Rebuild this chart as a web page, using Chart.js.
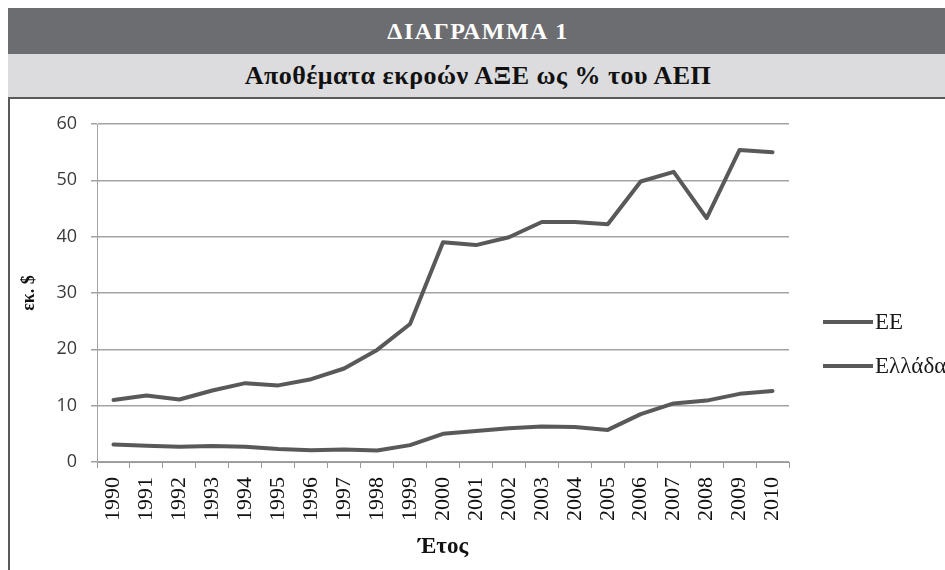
<!DOCTYPE html>
<html>
<head>
<meta charset="utf-8">
<script src="https://cdn.jsdelivr.net/npm/chart.js@4"></script>
<style>
  html, body { margin: 0; padding: 0; background: #fff; }
  body { width: 945px; height: 570px; position: relative; overflow: hidden; }
  .bar1 { position: absolute; left: 8px; top: 8px; width: 960px; height: 46px; background: #6c6d71;
          color: #fff; font: bold 24px "Liberation Serif", serif; letter-spacing: 1.5px; line-height: 46px; }
  .bar2 { position: absolute; left: 8px; top: 54px; width: 960px; height: 43px; background: #dcdcde;
          color: #111; font: bold 26px "Liberation Serif", serif; letter-spacing: 0.5px; line-height: 43px; }
  .bar1 span, .bar2 span { position: absolute; left: 0; width: 940px; text-align: center; }
  .topline { position: absolute; left: 8px; top: 97px; width: 960px; height: 2px; background: #58595b; }
  .leftline { position: absolute; left: 8px; top: 97px; width: 2px; height: 480px; background: #58595b; }
  canvas { position: absolute; left: 0; top: 99px; }
</style>
</head>
<body>
<div class="bar1"><span>ΔΙΑΓΡΑΜΜΑ 1</span></div>
<div class="bar2"><span>Αποθέματα εκροών ΑΞΕ ως % του ΑΕΠ</span></div>
<canvas id="stockChart" width="945" height="471"></canvas>
<div class="topline"></div>
<div class="leftline"></div>
<script>
const years = ['1990', '1991', '1992', '1993', '1994', '1995', '1996', '1997', '1998', '1999', '2000',
               '2001', '2002', '2003', '2004', '2005', '2006', '2007', '2008', '2009', '2010'];
const euValues = [11.0, 11.8, 11.1, 12.7, 14.0, 13.6, 14.7, 16.6, 19.9, 24.5, 39.0,
                  38.5, 39.9, 42.6, 42.6, 42.2, 49.8, 51.5, 43.3, 55.4, 55.0];
const greeceValues = [3.1, 2.9, 2.7, 2.85, 2.7, 2.3, 2.1, 2.2, 2.05, 3.0, 5.0,
                      5.5, 6.0, 6.3, 6.2, 5.7, 8.5, 10.4, 10.9, 12.1, 12.6];
const seriesNames = ['ΕΕ', 'Ελλάδα'];
const yTicks = [0, 10, 20, 30, 40, 50, 60];

// legend drawn by hand so it can run off the right edge like the original
const sideLegend = {
    id: 'sideLegend',
    afterDraw(chart) {
        const ctx = chart.ctx;
        const rows = [223, 267];
        ctx.save();
        chart.data.datasets.forEach((ds, i) => {
            ctx.strokeStyle = ds.borderColor;
            ctx.lineWidth = 4;
            ctx.beginPath();
            ctx.moveTo(823, rows[i]);
            ctx.lineTo(873, rows[i]);
            ctx.stroke();
            ctx.fillStyle = '#1a1a1a';
            ctx.font = '23px "Liberation Serif", serif';
            ctx.textBaseline = 'middle';
            ctx.textAlign = 'left';
            ctx.fillText(ds.label, 875, rows[i] + 1);
        });
        ctx.restore();
    }
};

function drawChart() {
    const ctx = document.getElementById('stockChart').getContext('2d');
    return new Chart(ctx, {
        type: 'line',
        data: {
            labels: years,
            datasets: [
                {
                    label: seriesNames[0],
                    data: euValues,
                    borderColor: '#595959',
                    borderWidth: 4,
                    pointRadius: 0,
                    tension: 0,
                    borderJoinStyle: 'round',
                    borderCapStyle: 'round'
                },
                {
                    label: seriesNames[1],
                    data: greeceValues,
                    borderColor: '#595959',
                    borderWidth: 4,
                    pointRadius: 0,
                    tension: 0,
                    borderJoinStyle: 'round',
                    borderCapStyle: 'round'
                }
            ]
        },
        options: {
            responsive: false,
            animation: false,
            layout: { padding: { top: 25, right: 156, left: 0, bottom: 0 } },
            plugins: {
                legend: { display: false },
                tooltip: { enabled: false }
            },
            scales: {
                x: {
                    offset: true,
                    afterFit: (scale) => { scale.height = 108; },
                    grid: {
                        offset: true,
                        drawOnChartArea: false,
                        drawTicks: true,
                        tickLength: 6,
                        color: '#9a9a9a'
                    },
                    border: { color: '#9a9a9a' },
                    ticks: {
                        autoSkip: false,
                        minRotation: 90,
                        maxRotation: 90,
                        padding: 9,
                        color: '#111',
                        font: { family: '"Liberation Serif", serif', size: 22 }
                    },
                    title: {
                        display: true,
                        text: 'Έτος',
                        color: '#111',
                        padding: { top: 0, bottom: 9 },
                        font: { family: '"Liberation Serif", serif', size: 23, weight: 'bold' }
                    }
                },
                y: {
                    min: 0,
                    max: 60,
                    afterFit: (scale) => { scale.width = 97; },
                    afterBuildTicks: (scale) => { scale.ticks = yTicks.map(v => ({ value: v })); },
                    grid: {
                        color: '#a3a3a3',
                        tickLength: 6,
                        lineWidth: 1.5
                    },
                    border: { color: '#a3a3a3' },
                    ticks: {
                        padding: 14,
                        color: '#3a3a3a',
                        font: { family: '"Open Sans", sans-serif', size: 18 }
                    },
                    title: {
                        display: true,
                        text: 'εκ. $',
                        color: '#111',
                        padding: { top: 19, bottom: 0 },
                        font: { family: '"Liberation Serif", serif', size: 18, weight: 'bold' }
                    }
                }
            }
        },
        plugins: [sideLegend]
    });
}

Promise.all([
    document.fonts.load('23px "Liberation Serif"'),
    document.fonts.load('bold 23px "Liberation Serif"'),
    document.fonts.load('18px "Open Sans"')
]).then(drawChart, drawChart);
</script>
</body>
</html>
